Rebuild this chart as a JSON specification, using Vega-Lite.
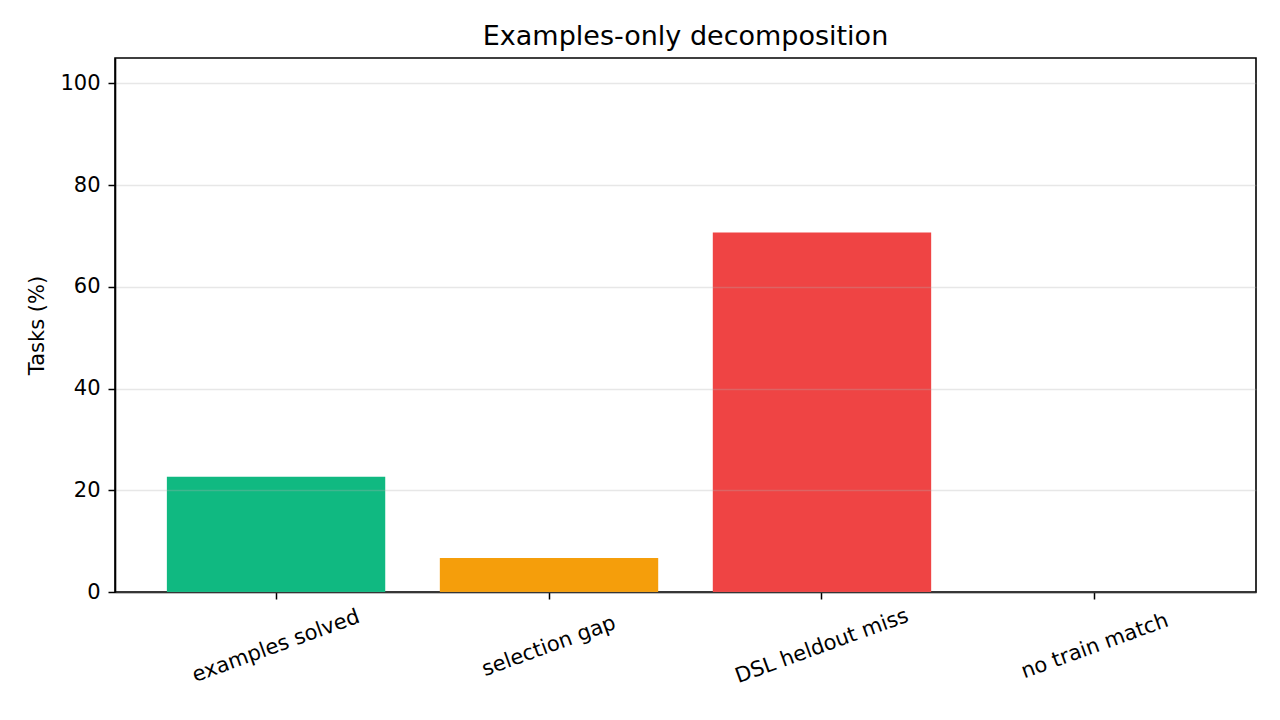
{
  "$schema": "https://vega.github.io/schema/vega-lite/v6.json",
  "description": "Examples-only decomposition of tasks.",
  "width": 1141,
  "height": 534,
  "autosize": {"type": "none"},
  "padding": {"left": 115, "top": 58, "right": 24, "bottom": 128},
  "title": {
    "text": "Examples-only decomposition",
    "fontSize": 27,
    "fontWeight": "normal",
    "color": "#000000",
    "anchor": "middle",
    "baseline": "alphabetic",
    "offset": 13,
    "dy": 27
  },
  "data": {
    "values": [
      {"category": "examples solved", "pct": 22.67},
      {"category": "selection gap", "pct": 6.67},
      {"category": "DSL heldout miss", "pct": 70.67},
      {"category": "no train match", "pct": 0}
    ]
  },
  "mark": {"type": "bar"},
  "encoding": {
    "x": {
      "field": "category",
      "type": "nominal",
      "sort": null,
      "scale": {"paddingInner": 0.2, "paddingOuter": 0.19},
      "axis": {
        "title": null,
        "labelAngle": -20,
        "labelAlign": "center",
        "labelBaseline": "middle",
        "labelPadding": 47,
        "labelLimit": 0,
        "grid": false
      }
    },
    "y": {
      "field": "pct",
      "type": "quantitative",
      "scale": {"domain": [0, 105], "nice": false},
      "axis": {
        "title": "Tasks (%)",
        "values": [0, 20, 40, 60, 80, 100],
        "grid": true,
        "gridColor": "#b0b0b0",
        "gridOpacity": 0.3,
        "gridWidth": 1.5,
        "labelPadding": 8,
        "titlePadding": 12,
        "zindex": 1
      }
    },
    "color": {
      "field": "category",
      "type": "nominal",
      "scale": {
        "domain": ["examples solved", "selection gap", "DSL heldout miss", "no train match"],
        "range": ["#10b981", "#f59e0b", "#ef4444", "#6b7280"]
      },
      "legend": null
    }
  },
  "config": {
    "font": "DejaVu Sans",
    "view": {"stroke": "#000000", "strokeWidth": 1.6},
    "axis": {
      "domainColor": "#000000",
      "domainWidth": 1.6,
      "tickColor": "#000000",
      "tickWidth": 1.5,
      "tickSize": 7,
      "labelColor": "#000000",
      "labelFontSize": 21,
      "titleColor": "#000000",
      "titleFontSize": 21,
      "titleFontWeight": "normal"
    }
  }
}
